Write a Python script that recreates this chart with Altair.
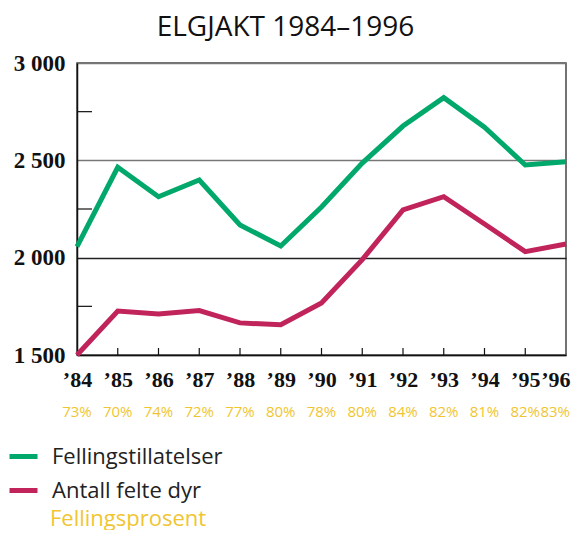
import altair as alt
import pandas as pd

years = list(range(1984, 1997))
tillatelser = [2057, 2464, 2313, 2399, 2168, 2060, 2260, 2486, 2676, 2822, 2670, 2476, 2493]
felte = [1500, 1726, 1711, 1728, 1665, 1655, 1767, 1990, 2245, 2313, 2173, 2031, 2070]
prosent = ["73%", "70%", "74%", "72%", "77%", "80%", "78%", "80%", "84%", "82%", "81%", "82%", "83%"]
series_names = ["Fellingstillatelser", "Antall felte dyr"]
series_colors = ["#00a86b", "#c0245a"]
y_labels = [1500, 2000, 2500, 3000]
y_minor = [1750, 2250, 2750]
yellow = "#f0c531"

W, H = 489, 292

long = pd.DataFrame(
    [{"year": y, "serie": series_names[0], "value": v} for y, v in zip(years, tillatelser)]
    + [{"year": y, "serie": series_names[1], "value": v} for y, v in zip(years, felte)]
)
pct_df = pd.DataFrame({"year": years[:-1], "pct": prosent[:-1]})
pct_last = pd.DataFrame({"year": years[-1:], "pct": prosent[-1:]})
minor_df = pd.DataFrame({"v": y_minor})
tick_df = pd.DataFrame({"year": years[1:-1]})
extra_df = pd.DataFrame({"t": ["Fellingsprosent"]})

xscale = alt.Scale(domain=[1984, 1996], nice=False, zero=False)
yscale = alt.Scale(domain=[1500, 3000], nice=False, zero=False)

lines = alt.Chart(long).mark_line(strokeWidth=5, strokeJoin="miter").encode(
    x=alt.X("year:Q", scale=xscale, title=None,
            axis=alt.Axis(values=years, ticks=False, grid=False, domainColor="#111",
                          domainWidth=1.5, labelFont="Liberation Serif", labelFontWeight="bold",
                          labelFontSize=22, labelColor="#111", labelPadding=14,
                          labelOverlap=False, labelBound=False, labelFlush=False,
                          labelAlign={"condition": {"test": "datum.value == 1996", "value": "right"}, "value": "center"},
                          labelOffset={"condition": {"test": "datum.value == 1996", "value": 4}, "value": 0},
                          labelExpr="'\u2019' + substring(toString(datum.value), 2)")),
    y=alt.Y("value:Q", scale=yscale, title=None,
            axis=alt.Axis(values=y_labels, ticks=False, domainColor="#111", domainWidth=1.5,
                          gridColor={"condition": {"test": "datum.value == 2000", "value": "#222"}, "value": "#777"},
                          gridWidth=1.5, labelOverlap=False, labelFlush=False,
                          labelFont="Liberation Serif", labelFontWeight="bold", labelFontSize=23,
                          labelColor="#111", labelPadding=12,
                          labelExpr="replace(format(datum.value, ','), ',', ' ')")),
    color=alt.Color("serie:N", scale=alt.Scale(domain=series_names, range=series_colors),
                    legend=alt.Legend(orient="none", legendX=-70, legendY=377, title=None,
                                      symbolType="stroke", symbolSize=784, symbolStrokeWidth=5,
                                      labelFont="Open Sans", labelFontSize=22, labelColor="#222",
                                      labelLimit=400, labelOffset=12, rowPadding=6, padding=0)),
)

minor = alt.Chart(minor_df).mark_rule(color="#111", strokeWidth=1.2).encode(
    x=alt.value(0), x2=alt.value(15), y=alt.Y("v:Q", scale=yscale)
)

xticks = alt.Chart(tick_df).mark_rule(color="#111", strokeWidth=1.2).encode(
    x=alt.X("year:Q", scale=xscale), y=alt.value(H), y2=alt.value(H - 7)
)

pct = alt.Chart(pct_df).mark_text(font="Open Sans", fontSize=15, color=yellow, baseline="middle").encode(
    x=alt.X("year:Q", scale=xscale), y=alt.value(H + 57), text="pct:N"
)
pct2 = alt.Chart(pct_last).mark_text(font="Open Sans", fontSize=15, color=yellow, baseline="middle",
                                     align="right", dx=4).encode(
    x=alt.X("year:Q", scale=xscale), y=alt.value(H + 57), text="pct:N"
)

extra = alt.Chart(extra_df).mark_text(font="Open Sans", fontSize=22, color=yellow, align="left",
                                      baseline="middle").encode(
    x=alt.value(-27), y=alt.value(H + 164), text="t:N"
)

chart = alt.layer(lines, minor, xticks, pct, pct2, extra).properties(
    width=W, height=H,
    title=alt.TitleParams(text="ELGJAKT 1984\u20131996", font="Open Sans", fontSize=28,
                          fontWeight="normal", color="#111", anchor="middle", dx=-36, offset=10),
    autosize=alt.AutoSizeParams(type="none"),
    padding={"left": 69, "top": 55, "right": 5, "bottom": 175},
).configure_view(stroke="#444", strokeWidth=1.5)

chart.save("out.html", embed_options={"renderer": "svg", "actions": False})
